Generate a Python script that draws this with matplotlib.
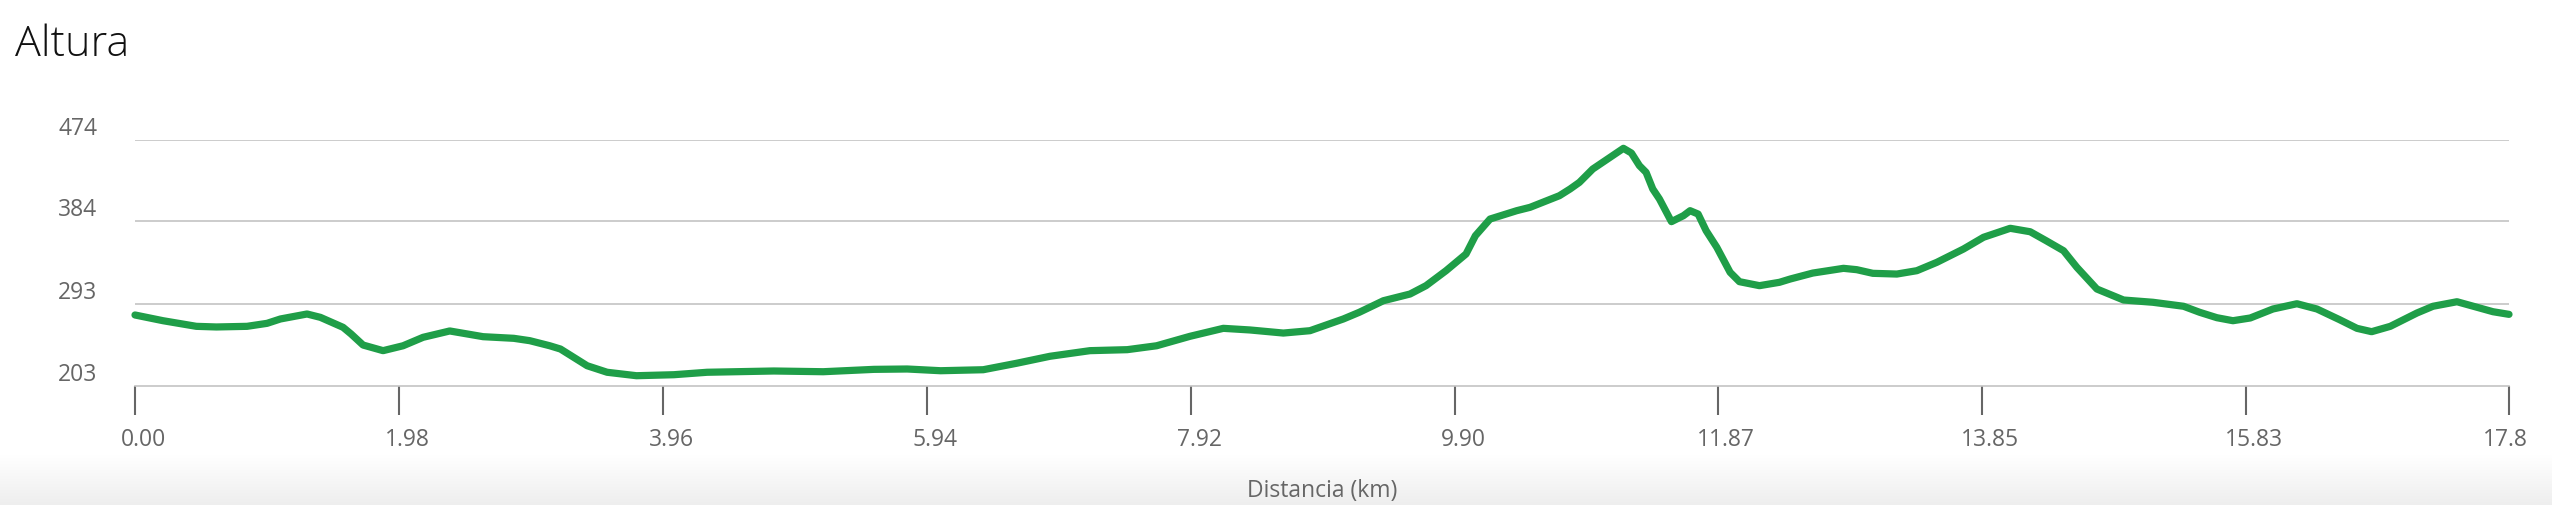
import numpy as np
import matplotlib
matplotlib.use("Agg")
from matplotlib import pyplot as plt
from matplotlib import transforms

plt.rcParams['font.family'] = ['Open Sans', 'DejaVu Sans']

# elevation profile (km, m)
dist_km = [0.00, 0.21, 0.46, 0.61, 0.84, 0.99, 1.09, 1.29, 1.39, 1.56, 1.62, 1.71,
           1.86, 2.01, 2.16, 2.36, 2.61, 2.84, 2.96, 3.11, 3.19, 3.39, 3.54, 3.76,
           4.04, 4.29, 4.79, 5.16, 5.54, 5.79, 6.04, 6.36, 6.61, 6.86, 7.16, 7.44,
           7.66, 7.91, 8.16, 8.36, 8.61, 8.81, 9.06, 9.18, 9.36, 9.56, 9.68, 9.83,
           9.98, 10.05, 10.16, 10.36, 10.46, 10.68, 10.76, 10.83, 10.93, 11.03, 11.16,
           11.22, 11.28, 11.33, 11.38, 11.43, 11.52, 11.61, 11.66, 11.72, 11.78, 11.86,
           11.96, 12.03, 12.18, 12.33, 12.41, 12.58, 12.81, 12.91, 13.03, 13.21, 13.36,
           13.51, 13.71, 13.86, 14.06, 14.21, 14.33, 14.46, 14.56, 14.71, 14.91, 15.13,
           15.36, 15.48, 15.61, 15.73, 15.86, 16.03, 16.21, 16.36, 16.53, 16.66, 16.77,
           16.91, 17.11, 17.23, 17.41, 17.56, 17.68, 17.80]
altura_m = [280.9, 274.6, 268.4, 267.7, 268.4, 271.7, 276.5, 282.0, 278.3, 267.3, 260.0, 247.8,
            241.6, 247.0, 256.3, 263.3, 257.0, 255.2, 252.6, 247.0, 243.4, 225.0, 217.8, 214.0,
            215.1, 217.8, 219.2, 218.4, 221.0, 221.4, 219.5, 220.6, 227.7, 235.4, 241.6, 242.7,
            247.0, 257.4, 266.2, 264.4, 261.0, 263.6, 276.5, 283.9, 296.6, 304.0, 313.2, 329.7,
            348.1, 368.2, 386.6, 395.8, 399.5, 412.3, 419.7, 427.0, 441.7, 451.6, 464.5,
            459.3, 445.4, 438.0, 419.7, 408.7, 383.7, 390.3, 395.8, 392.1, 373.8, 355.5,
            327.9, 317.6, 313.2, 316.9, 320.5, 327.1, 332.3, 330.8, 326.8, 326.0, 329.7,
            338.9, 353.6, 366.5, 376.4, 372.6, 362.7, 351.7, 333.4, 309.5, 297.4, 294.9,
            290.5, 283.9, 277.9, 274.6, 277.6, 287.5, 293.3, 287.5, 275.7, 266.2, 262.5,
            268.4, 283.1, 290.5, 295.5, 289.4, 284.5, 281.6]

x_ticks = [0.00, 1.98, 3.96, 5.94, 7.92, 9.90, 11.87, 13.85, 15.83, 17.8]
x_labels = ["0.00", "1.98", "3.96", "5.94", "7.92", "9.90", "11.87", "13.85", "15.83", "17.8"]
y_ticks = [203, 293, 384, 474]

W, H = 2552, 506
fig = plt.figure(figsize=(W / 100, H / 100), dpi=100)
fig.patch.set_facecolor("white")

# light grey fade at the bottom of the card
bg = fig.add_axes([0, 0, 1, 50 / H], zorder=-5)
grad = np.linspace(0, 1, 100).reshape(-1, 1)
bg.imshow(grad, aspect="auto", cmap=matplotlib.colors.LinearSegmentedColormap.from_list(
    "fade", ["#ffffff", "#eeeeee"]), extent=[0, 1, 0, 1], origin="upper")
bg.axis("off")

left, right = 135 / W, 2509 / W
bottom, top = (H - 386.7) / H, (H - 140.7) / H
ax = fig.add_axes([left, bottom, right - left, top - bottom])
ax.set_facecolor("none")

ax.plot(dist_km, altura_m, color="#1f9e48", linewidth=5.2, solid_capstyle="round",
        solid_joinstyle="round", clip_on=False, zorder=3)

ax.set_xlim(0, 17.8)
ax.set_ylim(203, 474)

for s in ["top", "right", "left"]:
    ax.spines[s].set_visible(False)
ax.spines["bottom"].set_color("#c4c4c4")
ax.spines["bottom"].set_linewidth(1.2)

for yv in y_ticks[1:]:
    ax.axhline(yv, color="#c4c4c4", linewidth=1.2, zorder=1)

ax.set_yticks(y_ticks)
ax.set_yticklabels([str(v) for v in y_ticks])
ax.tick_params(axis="y", length=0, pad=27, labelsize=16.5, labelcolor="#666666")
for lab in ax.get_yticklabels():
    lab.set_verticalalignment("bottom")

ax.set_xticks(x_ticks)
ax.set_xticklabels(x_labels)
ax.tick_params(axis="x", length=21, width=1.5, color="#666666", pad=9,
               labelsize=16.5, labelcolor="#666666")
for i, lab in enumerate(ax.get_xticklabels()):
    dx = -4 if i == len(x_labels) - 1 else 8
    lab.set_transform(lab.get_transform() + transforms.ScaledTranslation(dx / 100, 0, fig.dpi_scale_trans))

fig.text(1322 / W, 1 - 497 / H, "Distancia (km)", ha="center", va="baseline",
         fontsize=16.5, color="#666666")
fig.text(15 / W, 1 - 56 / H, "Altura", ha="left", va="baseline",
         fontsize=31, fontweight="light", color="#111111")

fig.savefig("out.png", dpi=100)
